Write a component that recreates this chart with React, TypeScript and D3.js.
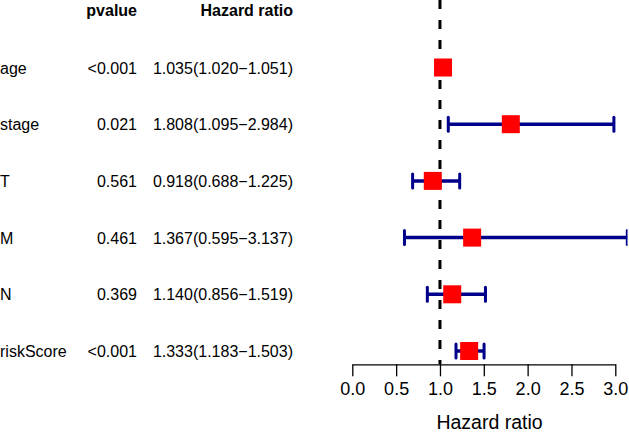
import React, { useRef, useEffect } from 'react';
import * as d3 from 'd3';

const variables = ['age', 'stage', 'T', 'M', 'N', 'riskScore'];
const pvalues = ['<0.001', '0.021', '0.561', '0.461', '0.369', '<0.001'];
const hazard = [1.035, 1.808, 0.918, 1.367, 1.14, 1.333];
const hazardLow = [1.02, 1.095, 0.688, 0.595, 0.856, 1.183];
const hazardHigh = [1.051, 2.984, 1.225, 3.137, 1.519, 1.503];
const xTicks = [0, 0.5, 1, 1.5, 2, 2.5, 3];

const width = 629;
const height = 432;

const ForestPlot: React.FC = () => {
  const svgRef = useRef<SVGSVGElement>(null);

  useEffect(() => {
    if (!svgRef.current) return;
    d3.select(svgRef.current).selectAll('*').remove();

    const svg = d3.select(svgRef.current)
      .attr('width', width)
      .attr('height', height)
      .style('font-family', '"Liberation Sans", Arial, sans-serif');

    const rows = variables.map((v, i) => ({
      name: v,
      p: pvalues[i],
      hr: hazard[i],
      low: hazardLow[i],
      high: hazardHigh[i]
    }));

    // scales
    const x = d3.scaleLinear().domain([0, 3]).range([352.3, 615.3]);
    const y = d3.scalePoint<string>().domain(variables).range([67.5, 351]);
    const axisY = 364.3;
    const fmt = d3.format('.3f');

    // clip for the plot region (M's CI runs off the right edge)
    svg.append('defs').append('clipPath').attr('id', 'plot-clip')
      .append('rect').attr('x', 300).attr('y', 0).attr('width', 327.5).attr('height', height);

    // column headers
    const header = svg.append('g').style('font-weight', 'bold').style('font-size', '16px');
    header.append('text').attr('x', 137).attr('y', 16).attr('text-anchor', 'end').text('pvalue');
    header.append('text').attr('x', 293).attr('y', 16).attr('text-anchor', 'end').text('Hazard ratio');

    // table text
    const table = svg.append('g').style('fill', '#000').style('font-size', '16px');
    table.selectAll('.label')
      .data(rows)
      .join('text')
      .attr('class', 'label')
      .attr('x', 0)
      .attr('y', d => (y(d.name) || 0) + 6)
      .text(d => d.name);

    table.selectAll('.pval')
      .data(rows)
      .join('text')
      .attr('class', 'pval')
      .attr('x', 137)
      .attr('y', d => (y(d.name) || 0) + 6)
      .attr('text-anchor', 'end')
      .text(d => d.p);

    table.selectAll('.hr')
      .data(rows)
      .join('text')
      .attr('class', 'hr')
      .attr('x', 293)
      .attr('y', d => (y(d.name) || 0) + 6)
      .attr('text-anchor', 'end')
      .text(d => `${fmt(d.hr)}(${fmt(d.low)}\u2212${fmt(d.high)})`);

    // reference line at HR = 1
    svg.append('line')
      .attr('x1', x(1)).attr('x2', x(1))
      .attr('y1', 0).attr('y2', axisY)
      .attr('stroke', '#000')
      .attr('stroke-width', 3)
      .attr('stroke-dasharray', '9,11');

    const plot = svg.append('g').attr('clip-path', 'url(#plot-clip)');
    const navy = '#00008B';

    // CI lines
    plot.selectAll('.ci')
      .data(rows)
      .join('line')
      .attr('class', 'ci')
      .attr('x1', d => x(d.low))
      .attr('x2', d => x(d.high))
      .attr('y1', d => y(d.name) || 0)
      .attr('y2', d => y(d.name) || 0)
      .attr('stroke', navy)
      .attr('stroke-width', 3.5);

    // CI end caps
    const caps = rows.flatMap(d => [
      { name: d.name, v: d.low },
      { name: d.name, v: d.high }
    ]);
    plot.selectAll('.cap')
      .data(caps)
      .join('line')
      .attr('class', 'cap')
      .attr('x1', d => x(d.v))
      .attr('x2', d => x(d.v))
      .attr('y1', d => (y(d.name) || 0) - 7)
      .attr('y2', d => (y(d.name) || 0) + 7)
      .attr('stroke', navy)
      .attr('stroke-width', 3)
      .attr('stroke-linecap', 'round');

    // hazard ratio boxes
    plot.selectAll('.box')
      .data(rows)
      .join('rect')
      .attr('class', 'box')
      .attr('x', d => x(d.hr) - 9)
      .attr('y', d => (y(d.name) || 0) - 9)
      .attr('width', 18)
      .attr('height', 18)
      .attr('fill', '#FF0000');

    // x axis
    const axis = svg.append('g')
      .attr('transform', `translate(0,${axisY})`)
      .call(d3.axisBottom(x).tickValues(xTicks).tickSize(12).tickSizeOuter(0).tickPadding(6)
        .tickFormat(d => d3.format('.1f')(d as number)));
    axis.selectAll('path, line').attr('stroke', '#000').attr('stroke-width', 1.3);
    axis.selectAll('text')
      .style('font-size', '18px')
      .style('font-family', '"Liberation Sans", Arial, sans-serif')
      .attr('fill', '#000');

    svg.append('text')
      .attr('x', 489.5)
      .attr('y', 429)
      .attr('text-anchor', 'middle')
      .style('font-size', '19.5px')
      .text('Hazard ratio');
  }, []);

  return <svg ref={svgRef} style={{ position: 'absolute', left: 0, top: 0, background: '#fff' }} />;
};

export default function App() {
  return <ForestPlot />;
}
